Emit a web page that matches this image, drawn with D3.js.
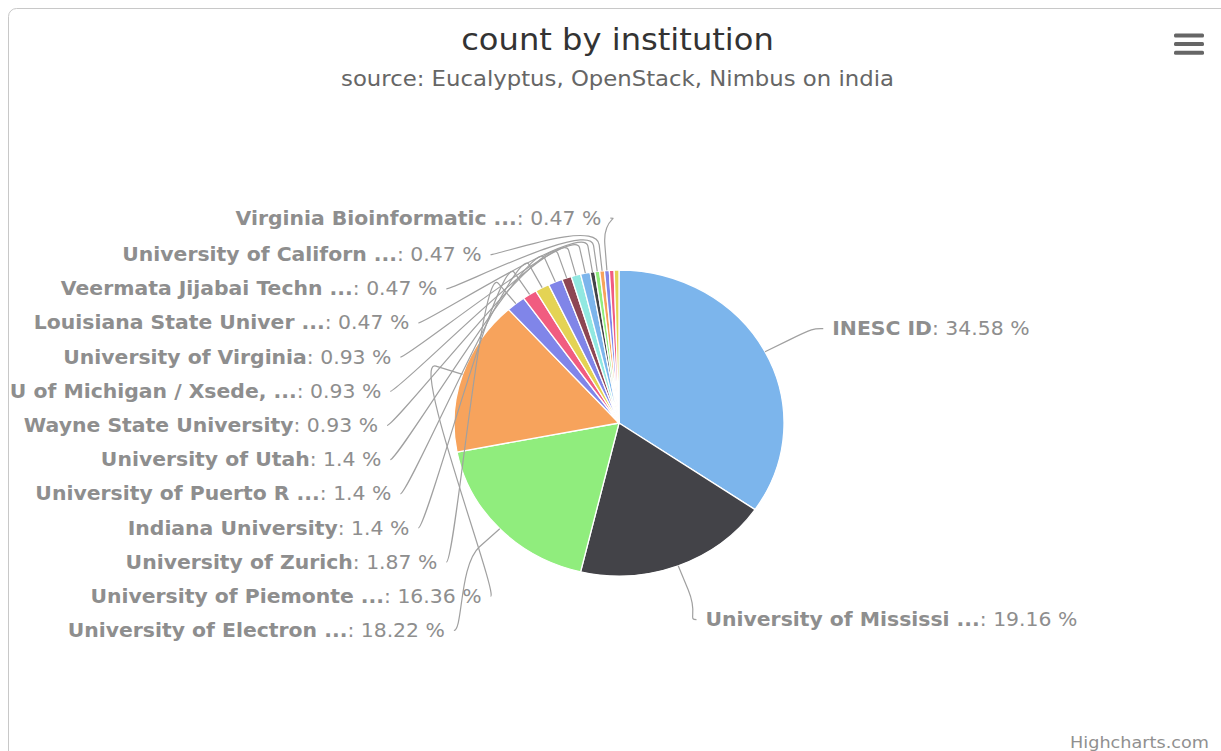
<!DOCTYPE html>
<html><head><meta charset="utf-8">
<script src="https://cdn.jsdelivr.net/npm/d3@7"></script>
<style>html,body{margin:0;padding:0;background:#fff}svg{display:block}</style>
</head><body>
<svg id="c" width="1221" height="751"></svg>
<script>
// ---- data ----
const titleText = "count by institution";
const subtitleText = "source: Eucalyptus, OpenStack, Nimbus on india";
const institutions = [
  "INESC ID", "University of Mississi ...", "University of Electron ...", "University of Piemonte ...",
  "University of Zurich", "Indiana University", "University of Puerto R ...", "University of Utah",
  "Wayne State University", "U of Michigan / Xsede, ...", "University of Virginia",
  "Louisiana State Univer ...", "Veermata Jijabai Techn ...", "University of Californ ...",
  "Virginia Bioinformatic ...", "Other institution A", "Other institution B"
];
const counts = [74, 41, 39, 35, 4, 3, 3, 3, 2, 2, 2, 1, 1, 1, 1, 1, 1];
const palette = ["#7cb5ec", "#434348", "#90ed7d", "#f7a35c", "#8085e9", "#f15c80", "#e4d354", "#8085e8", "#8d4653", "#91e8e1"];

// ---- layout ----
const svg = d3.select("#c");
const cx = 619, cy = 423, ry = 153, rx = 165;     // pie (slightly stretched as in the reference)
const k = 1.09;                                  // horizontal text stretch
const LRx = 241, LRy = 208, cyL = 425.5, slotH = 34.17;
const labelColor = "#8e8e8e", connColor = "#a0a0a0";
const FONT = "'DejaVu Sans', Verdana, sans-serif";

const defs = svg.append("defs");
defs.append("clipPath").attr("id", "clipChart")
  .append("rect").attr("x", 9).attr("y", 9).attr("width", 1212).attr("height", 742);

// frame
svg.append("rect").attr("x", 8.5).attr("y", 8.5).attr("width", 1300).attr("height", 800)
  .attr("rx", 8).attr("fill", "#fff").attr("stroke", "#c8c8c8").attr("stroke-width", 1);

// title / subtitle
svg.append("text").attr("transform", `translate(617.5,50) scale(${k},1)`)
  .attr("text-anchor", "middle").attr("font-family", FONT).attr("font-size", 29.5)
  .attr("fill", "#333333").text(titleText);
svg.append("text").attr("transform", `translate(617.5,86) scale(${k},1)`)
  .attr("text-anchor", "middle").attr("font-family", FONT).attr("font-size", 20.9)
  .attr("fill", "#666666").text(subtitleText);

// menu icon
const menu = svg.append("g");
[35.5, 44, 52.7].forEach(y => menu.append("rect").attr("x", 1174).attr("y", y - 2)
  .attr("width", 30).attr("height", 4).attr("rx", 1.5).attr("fill", "#666"));

// credits
svg.append("text").attr("transform", `translate(1209,748) scale(${k},1)`)
  .attr("text-anchor", "end").attr("font-family", FONT).attr("font-size", 16.2)
  .attr("fill", "#909090").text("Highcharts.com");

// ---- pie ----
const total = d3.sum(counts);
const data = institutions.map((n, i) => ({ name: n, value: counts[i], color: palette[i % palette.length], i }));
const arcs = d3.pie().value(d => d.value).sort(null).startAngle(0).endAngle(2 * Math.PI)(data);
const arcGen = d3.arc().innerRadius(0).outerRadius(ry);

const pg = svg.append("g").attr("transform", `translate(${cx},${cy}) scale(${rx / ry},1)`);
pg.selectAll("path").data(arcs).enter().append("path")
  .attr("d", arcGen).attr("fill", d => d.data.color)
  .attr("stroke", "#fff").attr("stroke-width", 1.3).attr("vector-effect", "non-scaling-stroke")
  .attr("stroke-linejoin", "round");

// ---- label layout (Highcharts-like slot distribution) ----
const pts = arcs.map(d => {
  const a = (d.startAngle + d.endAngle) / 2;
  return { name: d.data.name, value: d.data.value, i: d.data.i, a, left: a > Math.PI,
           ny: cyL - LRy * Math.cos(a) };
});

function layoutHalf(points, left) {
  const n = Math.floor(2 * LRy / slotH) + 1;
  const slots = d3.range(n).map(j => cyL - (n - 1) * slotH / 2 + j * slotH);
  let keep = points.slice();
  if (keep.length > n) {
    const byVal = keep.slice().sort((a, b) => a.value - b.value || b.i - a.i);
    const drop = new Set(byVal.slice(0, keep.length - n));
    keep = keep.filter(p => !drop.has(p));
  }
  const used = new Array(n).fill(null);
  keep.slice().sort((a, b) => b.value - a.value || a.i - b.i).forEach(p => {
    let best = -1, bd = Infinity;
    slots.forEach((s, j) => { if (used[j] === null && Math.abs(s - p.ny) < bd) { bd = Math.abs(s - p.ny); best = j; } });
    used[best] = p;
  });
  const chosen = used.map((p, j) => p ? j : -1).filter(j => j >= 0);
  const occ = new Set(chosen);
  keep.slice().sort((a, b) => a.ny - b.ny).forEach((p, idx) => { p.slot = chosen[idx]; });
  keep.forEach(p => {
    const j = p.slot;
    let y = slots[j];
    if ((p.ny > y && !occ.has(j + 1)) || (p.ny < y && !occ.has(j - 1))) y = p.ny;
    p.ly = y;
    const yx = (j === 0 || j === n - 1) ? p.ny : y;
    const t = Math.max(-1, Math.min(1, (yx - cyL) / LRy));
    p.lx = cx + (left ? -1 : 1) * LRx * Math.cos(Math.asin(t));
    p.shown = true;
  });
}
layoutHalf(pts.filter(p => !p.left), false);
layoutHalf(pts.filter(p => p.left), true);
const shown = pts.filter(p => p.shown);

// connectors
const f = 1.17;
const cg = svg.append("g").attr("clip-path", "url(#clipChart)");
shown.forEach(p => {
  const dir = p.left ? 1 : -1;   // towards the pie
  const s = Math.sin(p.a), c = Math.cos(p.a);
  const P4 = [cx + rx * s, cy - ry * c];
  const P2 = [cx + rx * f * s, cy - ry * f * c];
  const ax = p.lx + dir * 18, ay = p.ly;
  const path = d3.path();
  path.moveTo(p.lx + dir * 9, ay);
  path.bezierCurveTo(ax, ay, 2 * P2[0] - P4[0], 2 * P2[1] - P4[1], P2[0], P2[1]);
  path.lineTo(P4[0], P4[1]);
  cg.append("path").attr("d", path.toString()).attr("fill", "none")
    .attr("stroke", connColor).attr("stroke-width", 1.2);
});

// labels
const fmt = v => String(Math.round(v / total * 10000) / 100);
shown.forEach(p => {
  const t = cg.append("text")
    .attr("transform", `translate(${p.lx},${p.ly + 6.5}) scale(${k},1)`)
    .attr("text-anchor", p.left ? "end" : "start")
    .attr("font-family", FONT).attr("font-size", 18.7).attr("fill", labelColor);
  t.append("tspan").attr("font-weight", "bold").text(p.name);
  t.append("tspan").text(": " + fmt(p.value) + " %");
});
</script>
</body></html>
